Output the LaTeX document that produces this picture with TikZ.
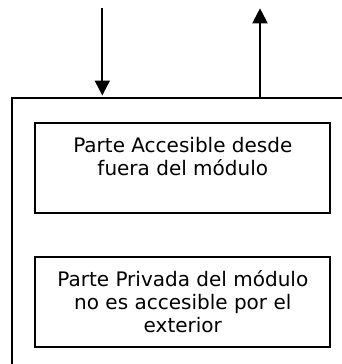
\documentclass[tikz,border=0pt]{standalone}
\usepackage{fontspec}
\setmainfont{DejaVu Sans}
\usetikzlibrary{arrows.meta,calc}
\begin{document}
\begin{tikzpicture}[x=1pt,y=-1pt,
  frame/.style={line width=2pt},
  box/.style={draw, line width=2pt, minimum width=295pt, minimum height=90pt, inner sep=0pt, anchor=north west},
  txt/.style={font=\fontsize{20}{23.2}\selectfont, align=center, inner sep=0pt, anchor=north},
  flow/.style={line width=2pt, -{Triangle[length=15pt,width=15pt]}}]
\useasboundingbox (0,0) rectangle (341,364);
\draw[frame] (12,366) -- (12,98.3) -- (343,98.3);
\node[box] (b1) at (34.3,121.7) {};
\node[box] (b2) at (34.3,256.3) {};
\node[txt] (t1) at ($(b1.north)+(0,15.5)$) {Parte Accesible desde\\fuera del módulo};
\node[txt] (t2) at ($(b2.north)+(0,14)$) {Parte Privada del módulo\\no es accesible por el\\exterior};
\coordinate (inS) at (102.3,8);
\coordinate (inE) at (102.3,95.5);
\coordinate (outS) at (260,98.3);
\coordinate (outE) at (260,8.3);
\draw[flow] (inS) -- (inE);
\draw[flow] (outS) -- (outE);
\end{tikzpicture}
\end{document}
